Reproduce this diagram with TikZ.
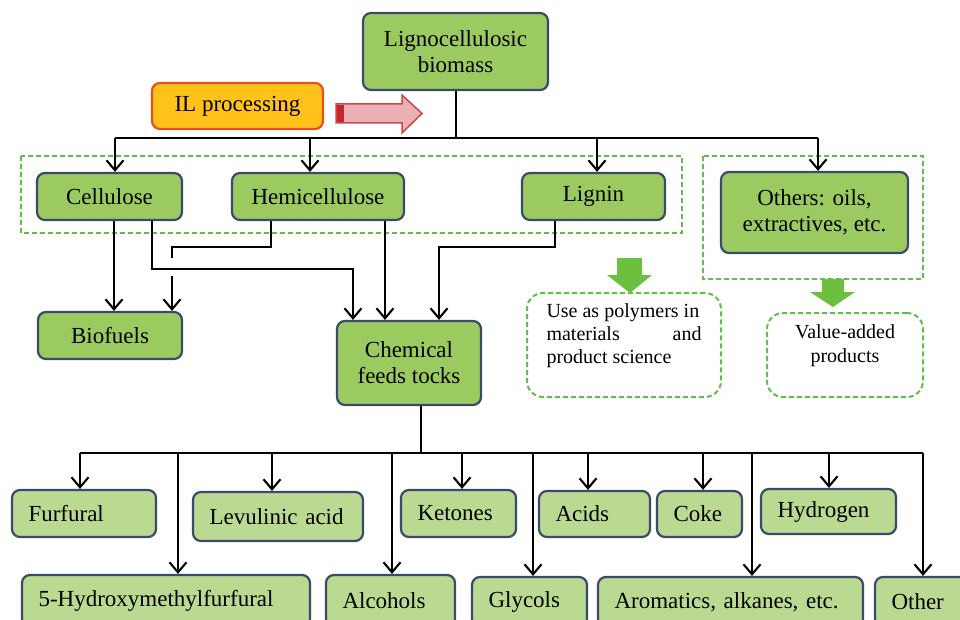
\documentclass[tikz,border=0pt]{standalone}
\usepackage{fontspec}
\setmainfont{Liberation Serif}
\usetikzlibrary{arrows.meta,calc}
\definecolor{gfill}{HTML}{9BCB60}
\definecolor{gfill2}{HTML}{B9DA90}
\definecolor{bord}{HTML}{3B4A6B}
\definecolor{dgreen}{HTML}{62BE4A}
\definecolor{barrow}{HTML}{6CBF3F}
\definecolor{ilfill}{HTML}{FFC21A}
\definecolor{ilbord}{HTML}{E8501E}
\definecolor{arrpink}{HTML}{EBB0B4}
\definecolor{arrred}{HTML}{D0454A}
\definecolor{arrdark}{HTML}{C0282D}
\tikzset{
  gbox/.style={draw=bord, line width=2.2pt, fill=gfill, rounded corners=8pt, align=center, inner sep=0pt, font=\fontsize{23}{26}\selectfont},
  lbox/.style={gbox, fill=gfill2, align=left, inner xsep=16.5pt, inner ysep=0pt},
  dashbox/.style={draw=dgreen, line width=2pt, dash pattern=on 5pt off 3pt},
  dashrbox/.style={dashbox, rounded corners=16pt, inner sep=0pt},
  conn/.style={line width=2.1pt, black},
  arr/.style={conn, -{Straight Barb[length=10pt,width=17pt]}},
  garrow/.style={fill=barrow, draw=none},
}
\begin{document}
\begin{tikzpicture}[x=1pt,y=-1pt]
\clip (0,0) rectangle (960,620);
\fill[white] (0,0) rectangle (960,620);

% dashed group frames
\draw[dashbox] (21,156) rectangle (682,233);
\draw[dashbox] (703,156) rectangle (923,279);

% top nodes
\node[gbox, minimum width=185pt, minimum height=77pt] (bio) at (455.5,51.5) {Lignocellulosic\\biomass};
\node[gbox, fill=ilfill, draw=ilbord, minimum width=171pt, minimum height=46pt] (il) at (237.5,106) {IL processing};
\node[gbox, minimum width=145pt, minimum height=47pt] (cel) at (109.5,196.5) {Cellulose};
\node[gbox, minimum width=172pt, minimum height=47pt] (hemi) at (318,196.5) {Hemicellulose};
\node[gbox, minimum width=143pt, minimum height=47pt] (lig) at (593.5,196.5) {Lignin};
\node[gbox, minimum width=187pt, minimum height=81pt] (oth) at (814.5,212.5) {Others: oils,\\extractives, etc.};
\node[gbox, minimum width=144pt, minimum height=47pt] (biof) at (110,335.5) {Biofuels};
\node[gbox, minimum width=144pt, minimum height=84pt] (chem) at (409,363) {Chemical\\feeds tocks};

% dashed result boxes
\node[dashrbox, minimum width=194pt, minimum height=104pt] (poly) at (624,345) {};
\node[align=left, inner sep=0pt, font=\fontsize{20}{23}\selectfont] (polyt) at ([yshift=9pt]poly.center)
  {Use as polymers in\\\hbox to 155pt{materials\hfill and}\\product science};
\node[dashrbox, minimum width=156pt, minimum height=84pt] (val) at (845,355) {};
\node[align=center, inner sep=0pt, font=\fontsize{20}{24}\selectfont] (valt) at ([yshift=9pt]val.center)
  {Value-added\\products};

% bottom row 1
\node[lbox, text width=111pt, minimum height=47pt] (furf) at (84,513.5) {Furfural};
\node[lbox, text width=137pt, minimum height=49pt] (levu) at (278,516.5) {Levulinic acid};
\node[lbox, text width=82pt, minimum height=47pt] (keto) at (458.5,513.5) {Ketones};
\node[lbox, text width=78pt, minimum height=46pt] (acid) at (594.5,514) {Acids};
\node[lbox, text width=52pt, minimum height=46pt] (coke) at (699.5,514) {Coke};
\node[lbox, text width=102pt, minimum height=45pt] (hydr) at (828.5,511.5) {Hydrogen};
% bottom row 2
\node[lbox, text width=255pt, minimum height=52pt] (hmf) at (166,601) {5-Hydroxymethylfurfural};
\node[lbox, text width=96pt, minimum height=52pt] (alc) at (390.5,601) {Alcohols};
\node[lbox, text width=82pt, minimum height=50pt] (gly) at (529.5,602) {Glycols};
\node[lbox, text width=232pt, minimum height=50pt] (arom) at (730.5,602) {Aromatics, alkanes, etc.};
\node[lbox, text width=62pt, minimum height=50pt] (oth2) at (922.5,602) {Other};

% IL arrow
\draw[draw=arrred, fill=arrpink, line width=1.5pt] (336,104) -- (402,104) -- (402,95) -- (422,113.5) -- (402,133) -- (402,123) -- (336,123) -- cycle;
\fill[arrdark] (337,105) rectangle (344,122);

% top bus
\coordinate (tb) at (456,138);
\coordinate (tC) at (115,138);
\coordinate (tH) at (310,138);
\coordinate (tL) at (597,138);
\coordinate (tO) at (818,138);
\draw[conn] (bio.south -| tb) -- (tb);
\draw[conn] (tC) -- (tO);
\draw[arr] (tC) -- (tC |- cel.north);
\draw[arr] (tH) -- (tH |- hemi.north);
\draw[arr] (tL) -- (tL |- lig.north);
\draw[arr] (tO) -- (tO |- oth.north);

% middle connections
\draw[arr] ([xshift=4.5pt]cel.south) -- ([xshift=4pt]biof.north);
\draw[arr] ([xshift=42.5pt]cel.south) -- ++(0,48) -| ([xshift=-56pt]chem.north);
\coordinate (hop1) at (172,258);
\coordinate (hop2) at (172,276);
\draw[conn] ([xshift=-47pt]hemi.south) -- ++(0,26) -| (hop1);
\draw[arr] (hop2) -- (hop2 |- biof.north);
\draw[arr] ([xshift=67pt]hemi.south) -- ([xshift=-24pt]chem.north);
\draw[arr] ([xshift=-38.5pt]lig.south) -- ++(0,26) -| ([xshift=30pt]chem.north);

% green block arrows
\fill[garrow] (617,258) -- (642,258) -- (642,275) -- (652,275) -- (630,293) -- (607,275) -- (617,275) -- cycle;
\fill[garrow] (822,279) -- (844,279) -- (844,292) -- (855,292) -- (833,307) -- (810,292) -- (822,292) -- cycle;

% bottom bus
\coordinate (bb) at (421,453);
\coordinate (dF) at (80,453);
\coordinate (dM) at (178,453);
\coordinate (dL) at (272,453);
\coordinate (dA) at (392,453);
\coordinate (dK) at (462,453);
\coordinate (dG) at (533,453);
\coordinate (dC) at (588,453);
\coordinate (dK2) at (703,453);
\coordinate (dR) at (752,453);
\coordinate (dY) at (829,453);
\coordinate (dO) at (923,453);
\draw[conn] (chem.south -| bb) -- (bb);
\draw[conn] (dF) -- (dO);
\draw[arr] (dF) -- (dF |- furf.north);
\draw[arr] (dM) -- (dM |- hmf.north);
\draw[arr] (dL) -- (dL |- levu.north);
\draw[arr] (dA) -- (dA |- alc.north);
\draw[arr] (dK) -- (dK |- keto.north);
\draw[arr] (dG) -- (dG |- gly.north);
\draw[arr] (dC) -- (dC |- acid.north);
\draw[arr] (dK2) -- (dK2 |- coke.north);
\draw[arr] (dR) -- (dR |- arom.north);
\draw[arr] (dY) -- (dY |- hydr.north);
\draw[arr] (dO) -- (dO |- oth2.north);
\end{tikzpicture}
\end{document}
